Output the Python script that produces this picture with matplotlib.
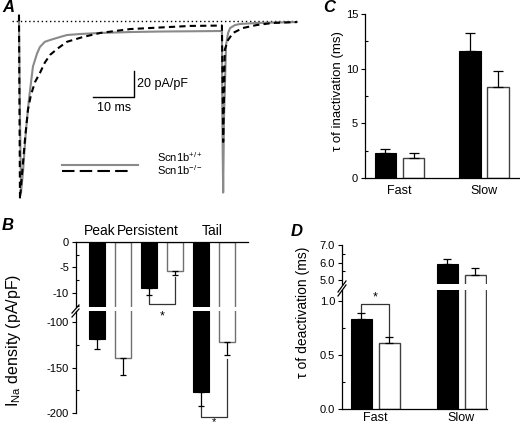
import matplotlib
matplotlib.use('Agg')
import matplotlib.pyplot as plt
from matplotlib.lines import Line2D
from matplotlib.ticker import FormatStrFormatter

plt.rcParams['font.family'] = ['Liberation Sans', 'DejaVu Sans']
plt.rcParams['axes.unicode_minus'] = False
plt.rcParams['mathtext.fontset'] = 'custom'
plt.rcParams['mathtext.rm'] = 'Liberation Sans'
plt.rcParams['mathtext.it'] = 'Liberation Sans:italic'

# ---- panel A: example traces (ms, pA/pF)
wt_t = [0, 0, 0.25, 0.5, 1.0, 1.7, 2.4, 3.4, 4.4, 5.1, 6.3, 7.6, 10, 11.7, 14.9, 19.8, 27,
        34.4, 49.5, 49.6, 49.8, 50.0, 50.5, 51, 51.5, 52.7, 53.9, 58, 62.4, 67.8]
wt_i = [4.6, 0, -76, -132, -115, -84, -61, -35, -25, -20, -16, -14.6, -12.3, -10.8, -10,
        -9.2, -8.5, -8.1, -7.7, -76, -132, -76, -18.5, -9.2, -5.4, -3.1, -2.3, -1.5, -1.2, -0.8]
ko_t = [0, 0, 0.24, 0.73, 1.46, 2.2, 2.9, 3.9, 5.1, 6.3, 7.6, 9.5, 11.7, 15.6, 19.8, 27.1,
        34.4, 41.7, 49.5, 49.8, 50.0, 50.2, 51.0, 52.2, 54.6, 58, 61.9, 67.8]
ko_i = [4.6, 0, -137, -118, -91, -68, -57, -47, -40, -32, -26, -21, -16, -12.3, -9.2, -6.2,
        -5, -3.8, -3.5, -93, -61, -22, -14.6, -9.2, -5.4, -3.1, -1.5, -0.8]

# ---- panel B: I_Na density (pA/pF)
b_groups = ['Peak', 'Persistent', 'Tail']
b_wt = [-118.5, -9.1, -176.8]
b_wt_err = [11.0, 1.3, 16.0]
b_ko = [-140.0, -5.7, -122.0]
b_ko_err = [18.7, 0.8, 14.6]

# ---- panel C: tau of inactivation (ms)
c_groups = ['Fast', 'Slow']
c_wt = [2.26, 11.65]
c_wt_err = [0.37, 1.59]
c_ko = [1.80, 8.30]
c_ko_err = [0.52, 1.46]

# ---- panel D: tau of deactivation (ms)
d_groups = ['Fast', 'Slow']
d_wt = [0.83, 5.94]
d_wt_err = [0.056, 0.24]
d_ko = [0.614, 5.31]
d_ko_err = [0.056, 0.37]

W, H = 520, 428
fig = plt.figure(figsize=(W / 100, H / 100), dpi=100)


def box(l, t, r, b):
    return fig.add_axes([l / W, 1 - b / H, (r - l) / W, (b - t) / H])


def ftext(x, y, s, **kw):
    fig.text(x / W, 1 - y / H, s, **kw)


def fline(xs, ys, **kw):
    fig.add_artist(Line2D([x / W for x in xs], [1 - y / H for y in ys], **kw))


def style_y(ax, major, minor, fmt=None):
    ax.set_yticks(major)
    ax.set_yticks(minor, minor=True)
    if fmt:
        ax.yaxis.set_major_formatter(FormatStrFormatter(fmt))
    ax.tick_params(axis='y', which='major', direction='out', length=3, width=0.8, pad=2, labelsize=8)
    ax.tick_params(axis='y', which='minor', direction='in', length=2, width=0.8)
    for s in ax.spines.values():
        s.set_linewidth(0.9)


def bars(ax, xc, wt, wt_err, ko, ko_err, off, w, ko_edge, down=False, cap=3):
    xs_wt = [x - off for x in xc]
    xs_ko = [x + off for x in xc]
    ax.bar(xs_wt, wt, w, color='k', edgecolor='k', lw=0.8, zorder=2)
    ax.bar(xs_ko, ko, w, color='white', edgecolor=ko_edge, lw=1, zorder=2)
    z = [0] * len(xc)
    for xs, v, e in ((xs_wt, wt, wt_err), (xs_ko, ko, ko_err)):
        yerr = [e, z] if down else [z, e]
        ax.errorbar(xs, v, yerr=yerr, fmt='none', ecolor='k', elinewidth=0.9,
                    capsize=cap, capthick=0.9, zorder=3)


# ================= A
axA = box(10, 5, 310, 205)
axA.axis('off')
axA.set_xlim(-2.195, 70.98)
axA.set_ylim(-141.54, 12.31)
axA.plot([-1.7, 68.3], [0, 0], ls=(0, (1, 2)), color='k', lw=1)
axA.plot(wt_t, wt_i, color='#8a8a8a', lw=1.5)
axA.plot(ko_t, ko_i, color='k', lw=1.5, ls=(0, (3, 2)))
# scale bar
axA.plot([18, 28, 28], [-58.5, -58.5, -38.5], color='k', lw=1)
axA.text(28.8, -48.5, '20 pA/pF', fontsize=9, va='center', ha='left')
axA.text(23.2, -67, '10 ms', fontsize=9, va='center', ha='center')
# legend
axA.plot([10.5, 29], [-110.8, -110.8], color='#8a8a8a', lw=1.5)
axA.plot([10.5, 27.1], [-115.4, -115.4], color='k', lw=1.5, ls=(0, (6, 2.5)))
axA.text(33.7, -108.5, r'Scn1b$^{\mathrm{+/+}}$', fontsize=8, va='baseline')
axA.text(33.7, -118.5, r'Scn1b$^{\mathrm{-/-}}$', fontsize=8, va='baseline')

# ================= B (broken axis)
bx = list(range(len(b_groups)))
bt = box(76, 242, 248, 306.5)
bb = box(76, 311, 248, 413)
for ax in (bt, bb):
    ax.set_xlim(-0.654, 2.654)
    ax.set_xticks([])
    ax.spines['right'].set_visible(False)
    ax.spines['bottom'].set_visible(False)
    ax.patch.set_visible(False)
    bars(ax, bx, b_wt, b_wt_err, b_ko, b_ko_err, 0.25, 0.31, '#707070', down=True, cap=2)
bb.spines['top'].set_visible(False)
bt.set_ylim(-12.65, 0)
bb.set_ylim(-200, -87.9)
style_y(bt, [0, -5, -10], [-2.5, -7.5, -12.5])
style_y(bb, [-100, -150, -200], [-125, -175])
bt.set_xlim(-0.654, 2.654)
bb.set_xlim(-0.654, 2.654)
# significance brackets
p = 1
bt.plot([p - 0.25, p - 0.25, p + 0.25, p + 0.25],
        [b_wt[p] - b_wt_err[p], -12.2, -12.2, b_ko[p] - b_ko_err[p] - 0.4],
        color='#333333', lw=0.9, clip_on=False)
t = 2
bb.plot([t - 0.25, t - 0.25, t + 0.25, t + 0.25],
        [b_wt[t] - b_wt_err[t], -204, -204, b_ko[t] - b_ko_err[t] - 4],
        color='#333333', lw=0.9, clip_on=False)
ftext(162, 310, '*', fontsize=9, ha='center', va='top')
ftext(214, 417, '*', fontsize=8, ha='center', va='top')
# break marks
fline([72, 79], [313, 305], color='k', lw=0.9)
fline([72, 79], [317, 309], color='k', lw=0.9)
for name, xc in zip(b_groups, [100, 148, 212]):
    ftext(xc, 231, name, fontsize=10, ha='center', va='center')
ftext(14, 340, r'I$_{\mathrm{Na}}$ density (pA/pF)', fontsize=11.5, rotation=90,
      ha='center', va='center')

# ================= C
cx = list(range(len(c_groups)))
axC = box(365, 14, 520, 178)
axC.set_xlim(-0.408, 1.426)
axC.set_ylim(0, 15)
axC.spines['top'].set_visible(False)
axC.spines['right'].set_visible(False)
bars(axC, cx, c_wt, c_wt_err, c_ko, c_ko_err, 0.166, 0.254, '#404040', cap=3.5)
style_y(axC, [0, 5, 10, 15], [2.5, 7.5, 12.5])
axC.set_xticks(cx)
axC.set_xticklabels(c_groups)
axC.tick_params(axis='x', length=0, pad=5, labelsize=9)
ftext(338, 91, 'τ of inactivation (ms)', fontsize=9.5, rotation=90, ha='center', va='center')

# ================= D (broken axis)
dx = list(range(len(d_groups)))
dt = box(342, 245, 487, 284)
db = box(342, 290, 487, 409)
for ax in (dt, db):
    ax.set_xlim(-0.39, 1.30)
    ax.spines['right'].set_visible(False)
    ax.spines['top'].set_visible(False)
    ax.patch.set_visible(False)
    bars(ax, dx, d_wt, d_wt_err, d_ko, d_ko_err, 0.163, 0.245, '#404040', cap=3)
dt.spines['bottom'].set_visible(False)
dt.set_xticks([])
dt.set_ylim(4.79, 7.0)
db.set_ylim(0, 1.102)
style_y(dt, [5, 6, 7], [5.5, 6.5], '%.1f')
style_y(db, [0, 0.5, 1.0], [0.25, 0.75], '%.1f')
db.set_xticks(dx)
db.set_xticklabels(d_groups)
db.tick_params(axis='x', length=0, pad=2, labelsize=9)
f = 0
db.plot([f - 0.163, f - 0.163, f + 0.163, f + 0.163],
        [d_wt[f] + d_wt_err[f], 0.97, 0.97, d_ko[f] + d_ko_err[f] + 0.01],
        color='#333333', lw=0.9, clip_on=False)
db.text(f, 1.035, '*', fontsize=9, ha='center', va='center')
fline([338, 346], [292, 281], color='k', lw=0.9)
fline([338, 346], [296, 285], color='k', lw=0.9)
ftext(303, 312, 'τ of deactivation (ms)', fontsize=10, rotation=90, ha='center', va='center')

# panel letters
for letter, x, y in (('A', 8, 8), ('B', 8, 226), ('C', 329, 8), ('D', 297, 232)):
    ftext(x, y, letter, fontsize=12, fontweight='bold', fontstyle='italic',
          ha='center', va='center')

fig.savefig('out.png', dpi=100)
